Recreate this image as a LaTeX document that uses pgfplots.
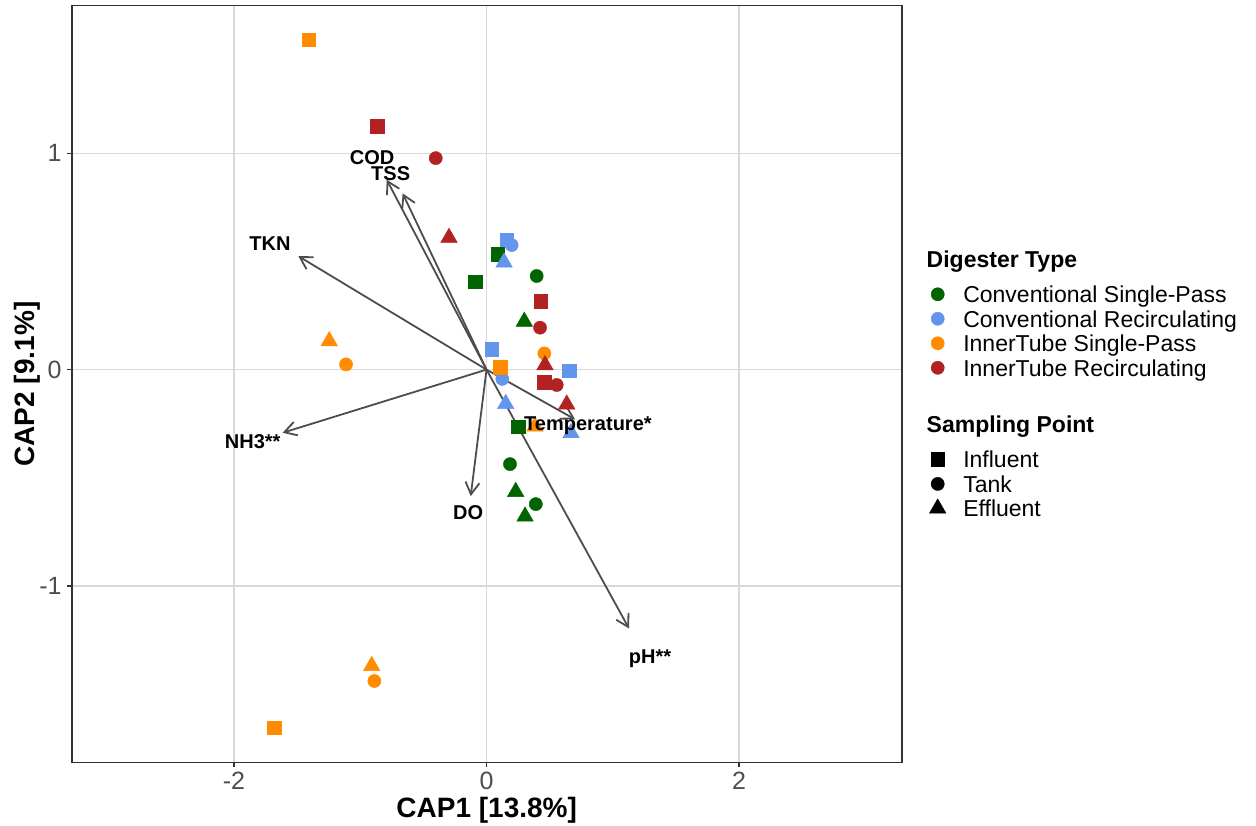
\documentclass[border=0pt]{standalone}
\usepackage{pgfplots}
\pgfplotsset{compat=1.18}
\usepackage{fontspec}
\setmainfont{Liberation Sans}
\usetikzlibrary{arrows.meta}

\definecolor{cgreen}{RGB}{0,100,0}
\definecolor{cblue}{RGB}{100,149,237}
\definecolor{corange}{RGB}{255,140,0}
\definecolor{cred}{RGB}{178,34,34}
\definecolor{gridc}{RGB}{217,217,217}
\definecolor{framec}{RGB}{51,51,51}
\definecolor{tickc}{RGB}{77,77,77}
\definecolor{arrowc}{RGB}{77,77,77}

\pgfplotsset{
  keyimg/.style={legend image code/.code={%
      \path[draw=none, fill=none] (-5.5pt,-3pt) rectangle (12.8pt,3pt);
      \draw[##1] plot coordinates {(0pt,0pt)};}},
  sq/.style={only marks, mark=square*, mark size=3.4pt, mark options={line width=0.2pt}},
  ci/.style={only marks, mark=*, mark size=3.3pt, mark options={line width=0.2pt}},
  tr/.style={only marks, mark=triangle*, mark size=4.8pt, mark options={line width=0.2pt}},
  biplot/.style={arrowc, line width=0.9pt, -{Straight Barb[length=6pt,width=7pt]}, forget plot},
}

\begin{document}
\begin{tikzpicture}
\useasboundingbox (0,0) rectangle (628pt,412.5pt);
\begin{axis}[
  at={(35.85pt,31.35pt)}, anchor=south west,
  scale only axis, width=415pt, height=378.3pt,
  xmin=-3.284, xmax=3.287, ymin=-1.816, ymax=1.683,
  xtick={-2,0,2}, xticklabels={-2,0,2},
  ytick={-1,0,1}, yticklabels={-1,0,1},
  xtick pos=lower, ytick pos=left,
  grid=major, major grid style={gridc, line width=0.7pt},
  axis line style={framec, line width=0.8pt},
  tick style={framec, line width=0.7pt},
  tick align=outside, major tick length=2.5pt,
  ticklabel style={font=\fontsize{12.5}{14}\selectfont, text=tickc},
  xticklabel style={yshift=1.2pt},
  yticklabel style={xshift=1pt},
  xlabel={CAP1 [13.8\%]}, ylabel={CAP2 [9.1\%]},
  label style={font=\fontsize{14}{16}\selectfont\bfseries},
  xlabel style={at={(axis description cs:0.5,-0.0723)}, anchor=base},
  ylabel style={at={(axis description cs:-0.0454,0.5)}, anchor=base},
  legend cell align=left,
  legend style={draw=none, fill=none, inner sep=0pt, outer sep=0pt,
    row sep=2.25pt, column sep=0pt,
    at={(1,1)}, anchor=north west, xshift=12.5pt, yshift=-122.9pt,
    font=\fontsize{11.5}{13}\selectfont,
    nodes={inner sep=0pt, text height=9.12pt, text depth=0.88pt}},
]
% Conventional Single-Pass
\addplot[forget plot, sq, color=cgreen] coordinates {(0.089,0.533) (-0.091,0.407) (0.252,-0.264)};
\addplot[forget plot, ci, color=cgreen] coordinates {(0.397,0.433) (0.186,-0.437) (0.390,-0.622)};
\addplot[forget plot, tr, color=cgreen] coordinates {(0.299,0.222) (0.231,-0.565) (0.305,-0.679)};
% Conventional Recirculating
\addplot[forget plot, sq, color=cblue] coordinates {(0.160,0.600) (0.041,0.094) (0.653,-0.005)};
\addplot[forget plot, ci, color=cblue] coordinates {(0.199,0.576) (0.125,-0.043)};
\addplot[forget plot, tr, color=cblue] coordinates {(0.139,0.496) (0.152,-0.158) (0.669,-0.293)};
% InnerTube Single-Pass
\addplot[forget plot, sq, color=corange] coordinates {(-1.408,1.525) (-1.683,-1.656) (0.107,0.011)};
\addplot[forget plot, ci, color=corange] coordinates {(-1.112,0.024) (-0.888,-1.440) (0.458,0.075)};
\addplot[forget plot, tr, color=corange] coordinates {(-1.245,0.132) (-0.909,-1.370) (0.384,-0.262)};
% InnerTube Recirculating
\addplot[forget plot, sq, color=cred] coordinates {(-0.865,1.127) (0.429,0.317) (0.458,-0.059)};
\addplot[forget plot, ci, color=cred] coordinates {(-0.402,0.978) (0.424,0.194) (0.556,-0.071)};
\addplot[forget plot, tr, color=cred] coordinates {(-0.297,0.610) (0.463,0.021) (0.635,-0.161)};

% environmental vectors
\addplot[biplot] coordinates {(0,0) (-0.790,0.878)};
\addplot[biplot] coordinates {(0,0) (-0.664,0.815)};
\addplot[biplot] coordinates {(0,0) (-1.490,0.525)};
\addplot[biplot] coordinates {(0,0) (-1.614,-0.292)};
\addplot[biplot] coordinates {(0,0) (-0.125,-0.585)};
\addplot[biplot] coordinates {(0,0) (0.701,-0.230)};
\addplot[biplot] coordinates {(0,0) (1.128,-1.197)};

\addplot[draw=none, mark=none, forget plot, nodes near coords,
  point meta=explicit symbolic,
  nodes near coords style={anchor=center, inner sep=0pt, text=black,
    font=\fontsize{10}{12}\selectfont\bfseries}]
  table[meta=lab] {
x      y      lab
-0.906 0.982  COD
-0.759 0.905  TSS
-1.714 0.584  TKN
-1.851 -0.333 NH3**
-0.146 -0.659 DO
0.803  -0.261 Temperature*
1.295  -1.335 pH**
};

% legend
\addlegendimage{empty legend}
\addlegendentry[anchor=base west, text height=8pt, text depth=6.13pt,
  font=\fontsize{11.5}{13}\selectfont\bfseries]{\hspace*{-18.3pt}Digester Type}
\addlegendimage{keyimg, ci, color=cgreen}
\addlegendentry{Conventional Single-Pass}
\addlegendimage{keyimg, ci, color=cblue}
\addlegendentry{Conventional Recirculating}
\addlegendimage{keyimg, ci, color=corange}
\addlegendentry{InnerTube Single-Pass}
\addlegendimage{keyimg, ci, color=cred}
\addlegendentry{InnerTube Recirculating}
\addlegendimage{empty legend}
\addlegendentry[anchor=base west, text height=25.2pt, text depth=6.13pt,
  font=\fontsize{11.5}{13}\selectfont\bfseries]{\hspace*{-18.3pt}Sampling Point}
\addlegendimage{keyimg, sq, color=black}
\addlegendentry{Influent}
\addlegendimage{keyimg, ci, color=black}
\addlegendentry{Tank}
\addlegendimage{keyimg, tr, color=black}
\addlegendentry{Effluent}
\end{axis}
\end{tikzpicture}
\end{document}
